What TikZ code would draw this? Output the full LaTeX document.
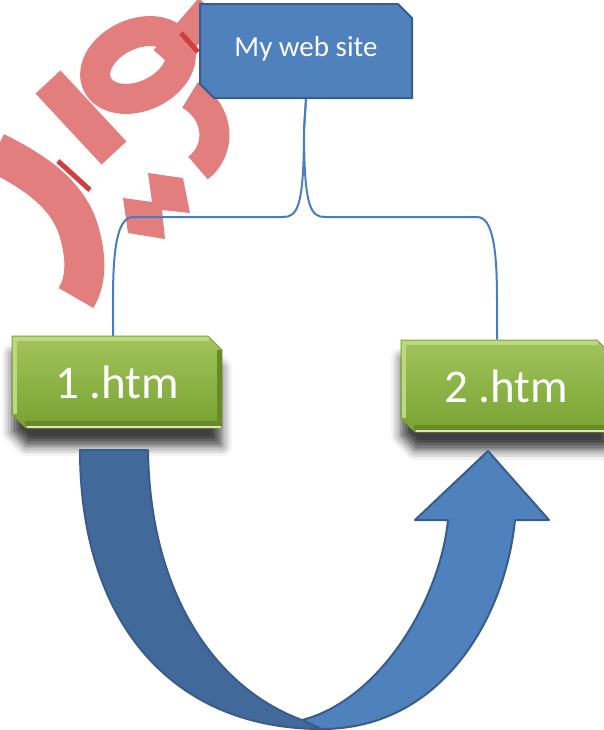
\documentclass[tikz,border=0pt]{standalone}
\usepackage{fontspec}
\setmainfont{Carlito}
\usepackage{tikz}
\usetikzlibrary{calc,shapes.misc,shadows.blur}
\definecolor{siteblue}{HTML}{4F81BD}
\definecolor{siteedge}{HTML}{385D8A}
\definecolor{backblue}{HTML}{41699A}
\definecolor{linkblue}{HTML}{4A7EBB}
\definecolor{leaftop}{HTML}{A2C45C}
\definecolor{leafbot}{HTML}{78A232}
\definecolor{leaflight}{HTML}{BCD883}
\definecolor{leafdark}{HTML}{668A28}
\definecolor{wmred}{HTML}{E27E7E}
\definecolor{wmdark}{HTML}{D03E3E}

\tikzset{
  sitebox/.style={chamfered rectangle, chamfered rectangle corners={north east,south west},
    chamfered rectangle xsep=3.5pt, chamfered rectangle ysep=3.5pt,
    fill=siteblue, draw=siteedge, line width=1pt, text=white, inner sep=0pt,
    minimum width=106pt, minimum height=47pt,
    font=\fontsize{14.5}{17}\selectfont, text height=9.2pt, text depth=4pt},
  pagebox/.style={chamfered rectangle, chamfered rectangle corners={north east,south west},
    chamfered rectangle xsep=3.5pt, chamfered rectangle ysep=3.5pt,
    top color=leaftop, bottom color=leafbot, draw=leafbot, line width=0.4pt,
    text=white, inner sep=0pt, minimum width=105pt, minimum height=46pt,
    font=\fontsize{23.5}{28}\selectfont,
    blur shadow={shadow xshift=0pt, shadow yshift=-9pt, shadow blur radius=5pt, shadow opacity=75}},
  link/.style={linkblue, line width=1pt},
  watermark/.style={wmred, line width=20pt},
  arrowedge/.style={draw=siteedge, line width=1pt, line join=round}
}

\begin{document}
\begin{tikzpicture}[x=0.5pt,y=-0.5pt]
\useasboundingbox (0,0) rectangle (604,730);

% watermark behind everything
\draw[watermark] (-5,152) .. controls (35,172) and (70,195) .. (80,235) .. controls (88,265) and (84,285) .. (76,298);
\draw[watermark, line width=17pt] (48,82) -- (114,153);
\draw[watermark, line width=15pt, rotate around={25:(138,65)}] (138,65) ellipse [x radius=45, y radius=31];
\draw[watermark, line width=15pt] (165,60) -- (210,8);
\draw[watermark, line width=15pt] (190,95) .. controls (220,112) and (222,150) .. (198,168);
\fill[wmred] (123,198) -- (152,202) -- (148,173) -- (183,178) -- (190,213) -- (162,210) -- (165,239) -- (128,233) -- cycle;
\draw[wmdark, line width=2.5pt] (58,161) -- (90,190);
\draw[wmdark, line width=2.5pt] (181,33) -- (198,52);

% boxes
\node[sitebox] (site) at (306,51) {My web site};
\node[pagebox] (page1) at (117,382) {1 .htm};
\node[pagebox] (page2) at (506,386) {2 .htm};

% bevel edges
\foreach \p in {page1,page2} {
  \draw[leaflight, line width=2pt] ($(\p.center)+(-102,32)$) -- ($(\p.center)+(-102,-43)$) -- ($(\p.center)+(92,-43)$);
  \draw[leafdark, line width=2.5pt] ($(\p.center)+(-92,41)$) -- ($(\p.center)+(102,41)$) -- ($(\p.center)+(102,-32)$);
  \draw[leaflight!60!white, line width=1pt] ($(\p.center)+(-90,45)$) -- ($(\p.center)+(104,45)$);
}

% links from the site to the pages
\draw[link] (site.south) -- (304,130) .. controls (304,208) and (297,217) .. (283,217) -- (133,217)
  .. controls (117,217) and (113,250) .. (113,300) -- (113,336);
\draw[link] (site.south) -- (304,130) .. controls (304,208) and (311,217) .. (325,217) -- (477,217)
  .. controls (493,217) and (497,250) .. (497,300) -- ($(page2.north)+(-9,0)$);

% curved arrow from 1 to 2
\filldraw[arrowedge, fill=backblue] (80,450) -- (148,450) .. controls (150,600) and (220,690) .. (302,720)
  -- (322,729) .. controls (170,729) and (80,620) .. (80,450) -- cycle;
\filldraw[arrowedge, fill=siteblue] (302,720) .. controls (380,700) and (440,600) .. (448,520) -- (415,520)
  -- (488,451) -- (549,520) -- (515,520) .. controls (505,620) and (440,729) .. (322,729) -- cycle;
\end{tikzpicture}
\end{document}
